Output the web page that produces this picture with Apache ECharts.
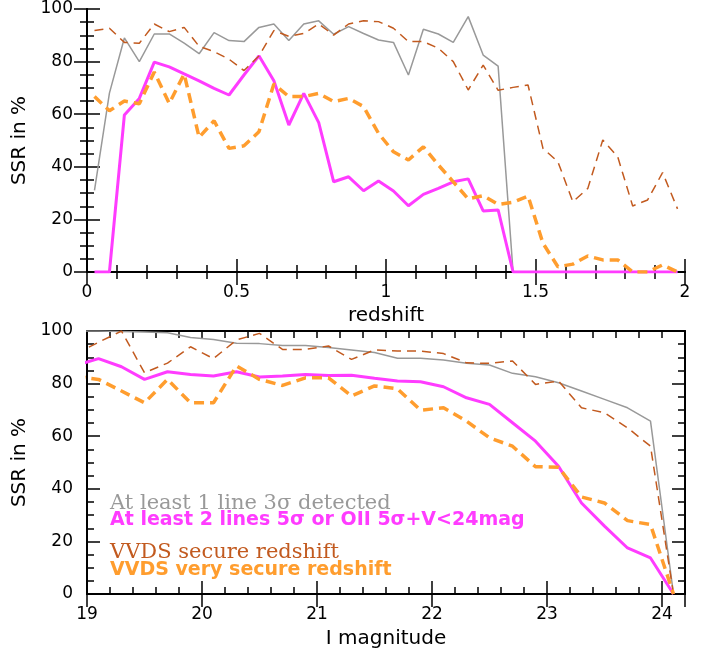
<!DOCTYPE html>
<html>
<head>
<meta charset="utf-8">
<script src="https://cdn.jsdelivr.net/npm/echarts@6/dist/echarts.min.js"></script>
<style>
html,body{margin:0;padding:0;background:#fff;}
#chart{width:713px;height:653px;}
</style>
</head>
<body>
<div id="chart"></div>
<script>
// ---------- data ----------
const redshiftBins = [0.025,0.075,0.125,0.175,0.225,0.275,0.325,0.375,0.425,0.475,0.525,0.575,0.625,0.675,0.725,0.775,0.825,0.875,0.925,0.975,1.025,1.075,1.125,1.175,1.225,1.275,1.325,1.375,1.425,1.475,1.525,1.575,1.625,1.675,1.725,1.775,1.825,1.875,1.925,1.975];
const zLine3sig   = [31,68,89,80,90.5,90.5,87,83,91,88,87.6,93,94.3,88,94.3,95.5,90.4,93.3,90.7,88.2,87.3,74.9,92.3,90.5,87.3,97.1,82.5,78.3,0,0,0,0,0,0,0,0,0,0,0,0];
const zLines5sig  = [0,0,59.7,66,79.8,78,75.3,72.7,69.8,67.3,74.9,82.2,72.7,55.9,67.9,56.8,34.3,36.2,30.9,34.6,30.8,25.2,29.5,31.8,34.3,35.4,23.2,23.6,0,0,0,0,0,0,0,0,0,0,0,0];
const zVvdsSecure = [91.8,92.7,87.3,87,94.3,91.4,93,85.8,83.8,80.9,76.6,82.1,91.8,89.6,90.7,94.3,90.1,94.3,95.5,95.2,92.7,87.6,87.6,85.1,80,69.2,78.7,69.1,70.2,71.1,47,41.9,26.7,31.8,50.2,43.8,25.1,27.4,37.8,24];
const zVvdsVery   = [66.7,61.3,65,64,76,64.1,75.3,51.2,57.5,47,48,53.3,71.5,66.7,66.7,67.9,64.8,66,62.9,52.7,45.7,42.6,47.6,40.7,34.3,27.8,29,25.7,26.5,28.9,10.9,2,3,6.1,4.6,4.6,0,0,2.7,0];

const magBins     = [18.9,19.1,19.3,19.5,19.7,19.9,20.1,20.3,20.5,20.7,20.9,21.1,21.3,21.5,21.7,21.9,22.1,22.3,22.5,22.7,22.9,23.1,23.3,23.5,23.7,23.9,24.1];
const mLine3sig   = [100,100,99.8,99.6,99.3,97.5,96.8,95.3,95.2,94.5,94.5,93.7,92.8,91.8,89.6,89.6,89,87.7,87.1,83.9,82.6,80.3,77.2,74,70.8,65.7,0];
const mLines5sig  = [86.9,89.5,86.4,81.6,84.5,83.5,82.9,84.5,82.5,82.9,83.5,83.1,83.2,82,81,80.7,78.8,74.6,72.1,65.1,58.1,48.6,34.6,25.8,17.5,13.7,0];
const mVvdsSecure = [91.3,95.7,100,84.1,87.8,94,89.5,96.6,99.1,93,93,94.3,89.2,92.8,92.4,92.4,91.4,87.9,87.7,88.6,79.7,81,70.8,68.9,63.2,56.2,0];
const mVvdsVery   = [82.8,81.6,77.2,72.7,81.6,72.7,72.7,86.7,81.6,79.3,82.2,82.2,75.3,79.1,78,69.9,70.8,65.7,59.4,56.2,48.4,48.2,36.9,34.6,27.9,26.4,0];

const legendTexts = [
  'At least 1 line 3σ detected',
  'At least 2 lines 5σ or OII 5σ+V<24mag',
  'VVDS secure redshift',
  'VVDS very secure redshift'
];
const yTitle = 'SSR in %';
const xTitleTop = 'redshift';
const xTitleBottom = 'I magnitude';

// ---------- styles ----------
const C_GRAY = '#999999', C_MAG = '#ff3cff', C_BROWN = '#c25a1f', C_ORANGE = '#ff9d2e';
const FONT = 'DejaVu Sans';

function pairs(xs, ys){ return xs.map((x,i)=>[x, ys[i]]); }

const lineAx = {show:true, lineStyle:{color:'#000', width:2}};
function tickMajor(len){ return {show:true, inside:true, length:len, lineStyle:{color:'#000', width:1.5}}; }
const lbl = (show, margin, extra) => Object.assign({show:show, margin:margin, fontSize:17, fontFamily:FONT, color:'#000'}, extra||{});

const xAxes = [];
const yAxes = [];
// top panel x axes (0: bottom, 1: top mirror)
[['bottom', true], ['top', false]].forEach(([pos, show]) => {
  xAxes.push({
    type:'value', gridIndex:0, position:pos, min:0, max:2, interval:0.5,
    axisLine:lineAx, axisTick:tickMajor(13),
    minorTick:{show:true, splitNumber:5, length:7, lineStyle:{color:'#000', width:1.5}},
    splitLine:{show:false}, minorSplitLine:{show:false},
    axisLabel:lbl(show, 12),
    name: show ? xTitleTop : '', nameLocation:'middle', nameGap:34,
    nameTextStyle:{fontSize:20, fontFamily:FONT, color:'#000'}
  });
});
// bottom panel x axes: 2 bottom major, 3 top major, 4 bottom minor, 5 top minor
[['bottom', true], ['top', false]].forEach(([pos, show]) => {
  xAxes.push({
    type:'value', gridIndex:1, position:pos, min:19, max:24.2, interval:1,
    axisLine:lineAx, axisTick:tickMajor(13),
    splitLine:{show:false},
    axisLabel:lbl(show, 12, {formatter: v => (Math.abs(v - Math.round(v)) < 1e-6 ? String(Math.round(v)) : '')}),
    name: show ? xTitleBottom : '', nameLocation:'middle', nameGap:35,
    nameTextStyle:{fontSize:20, fontFamily:FONT, color:'#000'}
  });
});
['bottom','top'].forEach(pos => {
  xAxes.push({
    type:'value', gridIndex:1, position:pos, min:19, max:24.2, interval:0.2,
    axisLine:lineAx, axisTick:tickMajor(7),
    splitLine:{show:false}, axisLabel:{show:false}
  });
});
// y axes: 0 top-left, 1 top-right, 2 bottom-left, 3 bottom-right
[0,1].forEach(g => {
  [['left', true], ['right', false]].forEach(([pos, show]) => {
    yAxes.push({
      type:'value', gridIndex:g, position:pos, min:0, max:100, interval:20,
      axisLine:lineAx, axisTick:tickMajor(13),
      minorTick:{show:true, splitNumber:4, length:7, lineStyle:{color:'#000', width:1.5}},
      splitLine:{show:false}, minorSplitLine:{show:false},
      axisLabel:lbl(show, 14),
      name: show ? yTitle : '', nameLocation:'middle', nameGap:56,
      nameTextStyle:{fontSize:20, fontFamily:FONT, color:'#000'}
    });
  });
});

function ser(name, xi, yi, data, color, width, dash){
  return {
    name:name, type:'line', xAxisIndex:xi, yAxisIndex:yi, data:data,
    showSymbol:false, symbol:'none', smooth:false, clip:true,
    lineStyle:{color:color, width:width, type: dash || 'solid'},
    emphasis:{disabled:true}, z:2
  };
}

const series = [
  ser('g1', 0, 0, pairs(redshiftBins, zLine3sig), C_GRAY, 1.5),
  ser('m1', 0, 0, pairs(redshiftBins, zLines5sig), C_MAG, 3),
  ser('b1', 0, 0, pairs(redshiftBins, zVvdsSecure), C_BROWN, 1.5, [9,6]),
  ser('o1', 0, 0, pairs(redshiftBins, zVvdsVery), C_ORANGE, 3.5, [10,6]),
  ser('g2', 2, 2, pairs(magBins, mLine3sig), C_GRAY, 1.5),
  ser('m2', 2, 2, pairs(magBins, mLines5sig), C_MAG, 3),
  ser('b2', 2, 2, pairs(magBins, mVvdsSecure), C_BROWN, 1.5, [9,6]),
  ser('o2', 2, 2, pairs(magBins, mVvdsVery), C_ORANGE, 3.5, [10,6])
];

const legendStyles = [
  {color:C_GRAY,   font:'normal 21px "DejaVu Serif"', top:493},
  {color:C_MAG,    font:'bold 19px "DejaVu Sans"',   top:511},
  {color:C_BROWN,  font:'normal 21px "DejaVu Serif"', top:542},
  {color:C_ORANGE, font:'bold 19px "DejaVu Sans"',   top:561}
];
const graphics = legendTexts.map((t,i) => ({
  type:'text', left:110, top:legendStyles[i].top, z:10,
  style:{text:t, fill:legendStyles[i].color, font:legendStyles[i].font}
}));

const chart = echarts.init(document.getElementById('chart'), null, {renderer:'canvas'});
chart.setOption({
  animation:false,
  backgroundColor:'#fff',
  grid:[
    {left:87, top:9, width:598, height:263},
    {left:87, top:331, width:598, height:263}
  ],
  xAxis:xAxes,
  yAxis:yAxes,
  series:series,
  graphic:graphics
});
</script>
</body>
</html>
